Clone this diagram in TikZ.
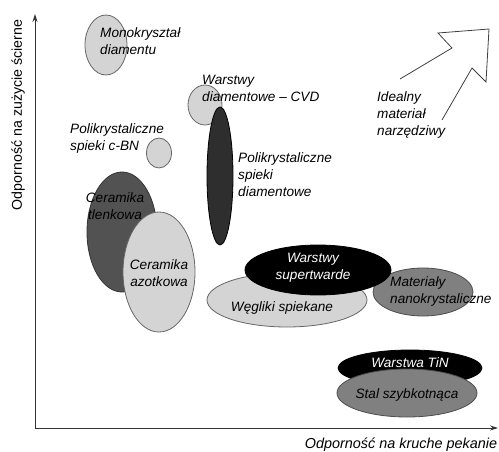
\documentclass[tikz,border=0pt]{standalone}
\usepackage{fontspec}
\setmainfont{Liberation Sans}
\usetikzlibrary{arrows.meta}
\begin{document}
\begin{tikzpicture}[x=1pt,y=-1pt,
  lbl/.style={font=\fontsize{13.6}{17}\selectfont\itshape,inner sep=0pt},
  light/.style={draw=black!60,fill=black!17,line width=0.8pt},
  mid/.style={draw=black!70,fill=black!50,line width=0.8pt},
  darkg/.style={draw=black!80,fill=black!68,line width=0.8pt},
  dark/.style={draw=black,fill=black!82,line width=0.8pt},
  blk/.style={draw=black,fill=black,line width=0.8pt},
  ax/.style={line width=0.9pt,black!80,-{Stealth[length=8pt,width=5pt]}}]
\useasboundingbox (0,0) rectangle (499,452);
% axes
\coordinate (o) at (35,428);
\coordinate (yt) at (35,14);
\coordinate (xt) at (498,428);
\draw[ax] (o) -- (yt);
\draw[ax] (o) -- (xt);
\node[font=\fontsize{14.2}{16}\selectfont,rotate=90,inner sep=0pt] (ylab) at (18,115) {Odporność na zużycie ścierne};
\node[font=\fontsize{14.4}{16}\selectfont\itshape,inner sep=0pt] (xlab) at (401,445) {Odporność na kruche pekanie};
% Monokrysztal
\draw[light] (106,45) ellipse [x radius=21, y radius=30];
\node[lbl,anchor=west,align=left] (mono) at (100,41.5) {Monokryształ\\diamentu};
% CVD
\draw[light] (205,105) ellipse [x radius=17, y radius=20];
\draw[dark] (220,176) ellipse [x radius=13, y radius=69];
\node[lbl,anchor=west,align=left] (cvd) at (202,88.5) {Warstwy\\diamentowe -- CVD};
\node[lbl,anchor=west,align=left] (pdia) at (238,175) {Polikrystaliczne\\spieki\\diamentowe};
% cBN
\draw[light] (159,153) ellipse [x radius=12.5, y radius=15];
\node[lbl,anchor=west,align=left] (cbn) at (70,138) {Polikrystaliczne\\spieki c-BN};
% ceramics
\draw[darkg] (122,232) ellipse [x radius=35, y radius=60];
\draw[light] (159,272) ellipse [x radius=36, y radius=60];
\node[lbl,align=center] (ctl) at (115,206.5) {Ceramika\\tlenkowa};
\node[lbl,align=center] (caz) at (159,273) {Ceramika\\azotkowa};
% weglik / supertwarde / nano
\draw[light] (287,300) ellipse [x radius=80, y radius=27];
\draw[mid] (423,292) ellipse [x radius=50, y radius=24];
\draw[blk] (318,270) ellipse [x radius=73, y radius=25];
\node[lbl] (weg) at (282,308) {Węgliki spiekane};
\node[lbl,align=center,text=white] (sup) at (313,267.5) {Warstwy\\supertwarde};
\node[lbl,anchor=west,align=left] (nano) at (390,291.5) {Materiały\\nanokrystaliczne};
% TiN / stal
\draw[blk] (410,368) ellipse [x radius=72, y radius=18];
\draw[mid] (407,393) ellipse [x radius=70, y radius=24];
\node[lbl,text=white] (tin) at (410,363) {Warstwa TiN};
\node[lbl] (stal) at (407,395) {Stal szybkotnąca};
% ideal arrow
\draw[black!75,line width=0.8pt,line join=miter] (400,79) -- (452,48) -- (438,33) -- (489,29) -- (486,82) -- (472,68) -- (442,120);
\node[lbl,anchor=west,align=left] (ideal) at (377,115) {Idealny\\materiał\\narzędziwy};
\end{tikzpicture}
\end{document}
